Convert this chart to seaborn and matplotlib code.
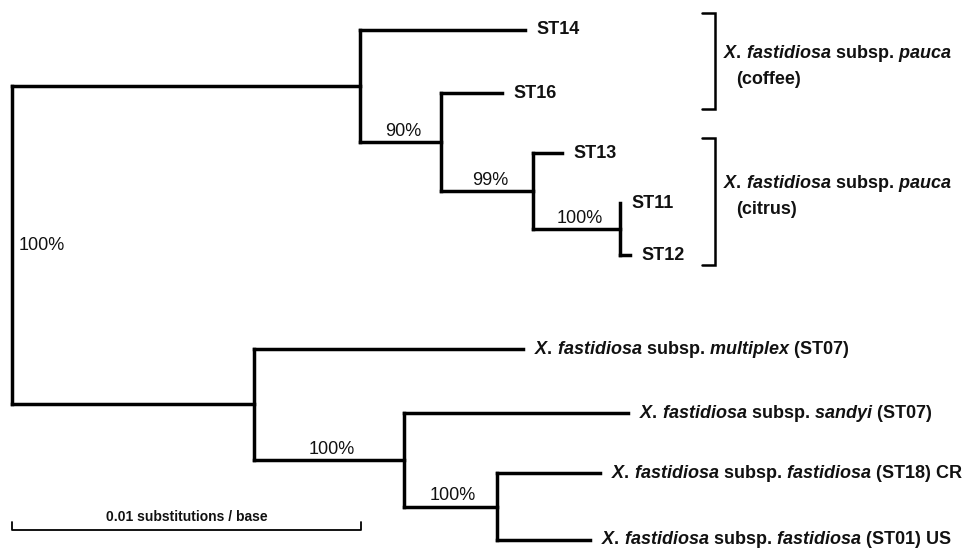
import matplotlib
matplotlib.use("Agg")
import matplotlib.pyplot as plt
import seaborn as sns
import pandas as pd

# ---------------- data ----------------
node_names = ['root', 'pauca', 'ST14', 'n90', 'ST16', 'n99', 'ST13', 'n100a',
              'ST11', 'ST12', 'other', 'multiplex', 'n100b', 'sandyi', 'n100c',
              'ST18', 'ST01']
parents = [None, 'root', 'pauca', 'pauca', 'n90', 'n90', 'n99', 'n99',
           'n100a', 'n100a', 'root', 'other', 'other', 'n100b', 'n100b',
           'n100c', 'n100c']
# branch lengths (substitutions / base)
branch_lengths = [0.0, 0.00997, 0.00473, 0.00232, 0.00175, 0.00264, 0.00083,
                  0.00249, 0.0, 0.00029, 0.00693, 0.00771, 0.00430, 0.00642,
                  0.00266, 0.00295, 0.00266]
leaf_order = ['ST14', 'ST16', 'ST13', 'ST11', 'ST12', 'multiplex', 'sandyi',
              'ST18', 'ST01']
leaf_rows = [30, 93, 153, 203, 255, 349, 413, 473, 540]
leaf_labels = [
    'ST14', 'ST16', 'ST13', 'ST11', 'ST12',
    r'$\mathit{X.\,fastidiosa}$ subsp. $\mathit{multiplex}$ (ST07)',
    r'$\mathit{X.\,fastidiosa}$ subsp. $\mathit{sandyi}$ (ST07)',
    r'$\mathit{X.\,fastidiosa}$ subsp. $\mathit{fastidiosa}$ (ST18) CR',
    r'$\mathit{X.\,fastidiosa}$ subsp. $\mathit{fastidiosa}$ (ST01) US',
]
support_nodes = ['root', 'n90', 'n99', 'n100a', 'n100b', 'n100c']
support_values = ['100%', '90%', '99%', '100%', '100%', '100%']
group_lines = [r'$\mathit{X.\,fastidiosa}$ subsp. $\mathit{pauca}$',
               r'$\mathit{X.\,fastidiosa}$ subsp. $\mathit{pauca}$']
group_hosts = ['(coffee)', '(citrus)']
group_spans = [(13, 109), (138, 265)]
group_label_rows = [54, 184]
scale_length = 0.01
scale_label = '0.01 substitutions / base'

# ---------------- style ----------------
sns.set_theme(style="white")
plt.rcParams['font.family'] = ['Liberation Sans', 'DejaVu Sans']
plt.rcParams['mathtext.fontset'] = 'custom'
plt.rcParams['mathtext.it'] = 'Liberation Sans:italic:bold'
plt.rcParams['mathtext.rm'] = 'Liberation Sans:bold'
plt.rcParams['mathtext.bf'] = 'Liberation Sans:bold'
INK = '#111111'

# ---------------- layout of tree ----------------
parent_of = dict(zip(node_names, parents))
blen = dict(zip(node_names, branch_lengths))
children = {n: [] for n in node_names}
for n, p in zip(node_names, parents):
    if p is not None:
        children[p].append(n)

xpos = {}
for n in node_names:
    p = parent_of[n]
    xpos[n] = blen[n] + (xpos[p] if p is not None else 0.0)

ypos = dict(zip(leaf_order, leaf_rows))


def get_y(n):
    if n in ypos:
        return ypos[n]
    ys = [get_y(c) for c in children[n]]
    ypos[n] = (min(ys) + max(ys)) / 2
    return ypos[n]


get_y('root')

rows = []
seg = 0
for n in node_names:
    p = parent_of[n]
    if p is not None and blen[n] > 0:
        rows += [dict(x=xpos[p], y=ypos[n], seg=seg), dict(x=xpos[n], y=ypos[n], seg=seg)]
        seg += 1
    if children[n]:
        ys = [ypos[c] for c in children[n]]
        rows += [dict(x=xpos[n], y=min(ys), seg=seg), dict(x=xpos[n], y=max(ys), seg=seg)]
        seg += 1
segments = pd.DataFrame(rows)

# ---------------- figure ----------------
fig = plt.figure(figsize=(9.73, 5.5), dpi=100)
ax = fig.add_axes([0, 0, 1, 1])
px = 1 / 34900.0  # substitutions per pixel
ax.set_xlim(-12 * px, 961 * px)
ax.set_ylim(550, 0)
ax.axis('off')

sns.lineplot(data=segments, x='x', y='y', units='seg', estimator=None,
             sort=False, color='black', lw=2.5, solid_capstyle='projecting',
             ax=ax, legend=False)

# leaf labels
for n, lab in zip(leaf_order, leaf_labels):
    ax.annotate(lab, xy=(xpos[n], ypos[n]), xytext=(8, 0),
                textcoords='offset points', ha='left', va='center',
                fontsize=13, fontweight='bold', color=INK)

# support values
for n, s in zip(support_nodes, support_values):
    if parent_of[n] is None:
        ax.annotate(s, xy=(xpos[n], ypos[n]), xytext=(4.5, 0),
                    textcoords='offset points', ha='left', va='center',
                    fontsize=13, color=INK)
    else:
        mid = (xpos[parent_of[n]] + xpos[n]) / 2
        ax.annotate(s, xy=(mid, ypos[n]), xytext=(2, 1.5),
                    textcoords='offset points', ha='center', va='bottom',
                    fontsize=13, color=INK)

# group brackets
bx = 703 * px
arm = 13 * px
for (top, bot), row, line1, host in zip(group_spans, group_label_rows,
                                         group_lines, group_hosts):
    ax.plot([bx - arm, bx, bx, bx - arm], [top, top, bot, bot],
            color='black', lw=1.8, solid_joinstyle='miter')
    ax.text(bx + 8 * px, row, line1, ha='left', va='center',
            fontsize=13, fontweight='bold', color=INK)
    ax.text(bx + 21 * px, row + 26, host, ha='left', va='center',
            fontsize=13, fontweight='bold', color=INK)

# scale bar
sy = 530
ax.plot([0, 0, scale_length, scale_length], [sy - 8, sy, sy, sy - 8],
        color='black', lw=1.3)
ax.text(scale_length / 2, sy - 6, scale_label, ha='center', va='bottom',
        fontsize=10, fontweight='bold', color=INK)

fig.savefig('out.png', dpi=100, facecolor='white')
